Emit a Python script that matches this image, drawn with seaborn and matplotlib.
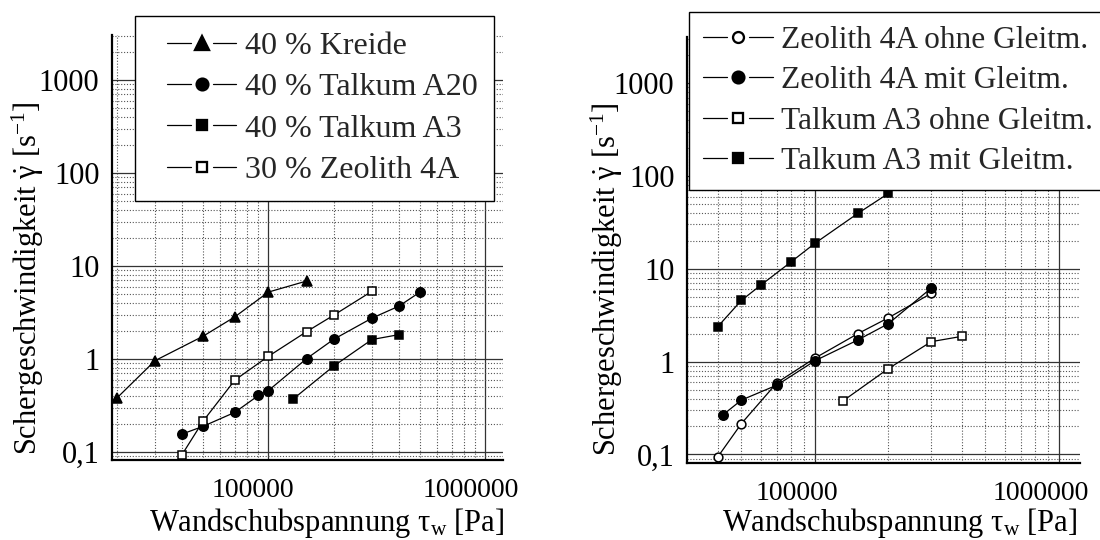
import matplotlib
matplotlib.use("Agg")
import numpy as np
import pandas as pd
import seaborn as sns
import matplotlib.pyplot as plt
from matplotlib.ticker import FixedLocator, FixedFormatter, NullFormatter
from matplotlib.transforms import ScaledTranslation
from matplotlib.legend_handler import HandlerLine2D
from matplotlib.lines import Line2D

# ---------------- data (left panel) ----------------
kreide_x = [20000, 30000, 50000, 70000, 100000, 150000]
kreide_y = [0.38, 0.96, 1.76, 2.84, 5.25, 6.9]
a20_x = [40000, 50000, 70000, 90000, 100000, 150000, 200000, 300000, 400000, 500000]
a20_y = [0.156, 0.189, 0.267, 0.406, 0.458, 1.01, 1.63, 2.75, 3.71, 5.25]
a3_x = [130000, 200000, 300000, 400000]
a3_y = [0.371, 0.84, 1.62, 1.83]
zeo30_x = [40000, 50000, 70000, 100000, 150000, 200000, 300000]
zeo30_y = [0.094, 0.215, 0.593, 1.07, 1.97, 2.96, 5.35]
left_labels = ["40 % Kreide", "40 % Talkum A20", "40 % Talkum A3", "30 % Zeolith 4A"]

# ---------------- data (right panel) ----------------
zeo_ohne_x = [40000, 50000, 70000, 100000, 150000, 200000, 300000]
zeo_ohne_y = [0.094, 0.215, 0.594, 1.09, 2.0, 2.96, 5.44]
zeo_mit_x = [42000, 50000, 70000, 100000, 150000, 200000, 300000]
zeo_mit_y = [0.267, 0.385, 0.559, 1.02, 1.71, 2.56, 6.2]
a3_ohne_x = [130000, 200000, 300000, 400000]
a3_ohne_y = [0.375, 0.84, 1.64, 1.87]
a3_mit_x = [40000, 50000, 60000, 80000, 100000, 150000, 200000]
a3_mit_y = [2.38, 4.57, 6.65, 11.9, 18.8, 39.5, 64.8]
right_labels = ["Zeolith 4A ohne Gleitm.", "Zeolith 4A mit Gleitm.",
                "Talkum A3 ohne Gleitm.", "Talkum A3 mit Gleitm."]

y_ticks = [0.1, 1, 10, 100, 1000]
y_ticklabels = ["0,1", "1", "10", "100", "1000"]
x_ticks = [100000, 1000000]
x_ticklabels = ["100000", "1000000"]

x_label = r"Wandschubspannung τ$_{\mathrm{w}}$ [Pa]"
y_label = r"Schergeschwindigkeit $\dot{\mathrm{\gamma}}$ [s$^{-1}$]"

# ---------------- style ----------------
sns.set_style("white")
plt.rcParams["font.family"] = ["Liberation Serif", "DejaVu Serif"]
plt.rcParams["mathtext.fontset"] = "custom"
plt.rcParams["mathtext.rm"] = "Liberation Serif"
plt.rcParams["mathtext.it"] = "Liberation Serif:italic"
plt.rcParams["mathtext.bf"] = "Liberation Serif:bold"


class GapHandler(HandlerLine2D):
    """legend handle: line - marker - line with small gaps"""
    def __init__(self, lead=0.0, **kw):
        super().__init__(**kw)
        self.lead = lead

    def create_artists(self, legend, orig_handle, xdescent, ydescent,
                       width, height, fontsize, trans):
        y = height / 2.0 - ydescent
        x0 = -xdescent + self.lead * width
        x1 = -xdescent + width
        w = x1 - x0
        xc = 0.5 * (x0 + x1)
        gap = 0.16 * w
        l1 = Line2D([x0, xc - gap], [y, y], color="black", lw=0.9)
        l2 = Line2D([xc + gap, x1], [y, y], color="black", lw=0.9)
        m = Line2D([xc], [y], ls="none", marker=orig_handle.get_marker(),
                   markersize=orig_handle.get_markersize() * 1.25,
                   markerfacecolor=orig_handle.get_markerfacecolor(),
                   markeredgecolor="black",
                   markeredgewidth=orig_handle.get_markeredgewidth() * 1.5)
        for a in (l1, l2, m):
            a.set_transform(trans)
        return [l1, l2, m]


def series(ax, xs, ys, marker, mfc, ms, label):
    df = pd.DataFrame({"x": xs, "y": ys})
    sns.lineplot(data=df, x="x", y="y", ax=ax, color="black", lw=0.9,
                 marker=marker, markersize=ms, markerfacecolor=mfc,
                 markeredgecolor="black", markeredgewidth=1.1,
                 label=label, legend=False, zorder=3)


def style_axes(ax, xlim, ylim, xshift_px, xlabel_xy, ylabel_xy):
    ax.set_xscale("log")
    ax.set_yscale("log")
    ax.set_xlim(*xlim)
    ax.set_ylim(*ylim)
    ax.set_axisbelow(True)
    ax.yaxis.set_major_locator(FixedLocator(y_ticks))
    ax.yaxis.set_major_formatter(FixedFormatter(y_ticklabels))
    yminor = [m * 10.0 ** e for e in range(-2, 4) for m in range(2, 10)]
    ax.yaxis.set_minor_locator(FixedLocator(yminor))
    ax.yaxis.set_minor_formatter(NullFormatter())
    ax.xaxis.set_major_locator(FixedLocator(x_ticks))
    ax.xaxis.set_major_formatter(FixedFormatter(x_ticklabels))
    xminor = [m * 10.0 ** e for e in range(4, 7) for m in range(2, 10)]
    ax.xaxis.set_minor_locator(FixedLocator(xminor))
    ax.xaxis.set_minor_formatter(NullFormatter())

    ax.grid(which="major", color="#333333", lw=0.9, ls="-")
    ax.grid(which="minor", color="#555555", lw=0.8, ls=(0, (1, 1.6)))
    for s in ("top", "right"):
        ax.spines[s].set_visible(False)
    for s in ("left", "bottom"):
        ax.spines[s].set_color("black")
        ax.spines[s].set_linewidth(1.6)
    ax.tick_params(which="major", direction="out", length=7, width=1.3,
                   color="black", labelcolor="black")
    ax.tick_params(which="minor", direction="out", length=4, width=1.1,
                   color="black")
    ax.tick_params(axis="y", which="major", pad=2, labelsize=22)
    ax.tick_params(axis="x", which="major", pad=6, labelsize=20)
    ax.set_xlabel(x_label, fontsize=22, color="black")
    ax.set_ylabel(y_label, fontsize=22, color="black")
    ax.xaxis.set_label_coords(*xlabel_xy)
    ax.yaxis.set_label_coords(*ylabel_xy)
    fig = ax.figure
    off = ScaledTranslation(xshift_px / fig.dpi, 0, fig.dpi_scale_trans)
    for lab in ax.get_xticklabels():
        lab.set_transform(lab.get_transform() + off)


fig = plt.figure(figsize=(11, 5.4), dpi=100)
axL = fig.add_axes([0.1018, 0.1481, 0.3555, 0.787])
axR = fig.add_axes([0.6245, 0.1426, 0.3573, 0.789])

# left panel
series(axL, kreide_x, kreide_y, "^", "black", 7.5, left_labels[0])
series(axL, a20_x, a20_y, "o", "black", 6.8, left_labels[1])
series(axL, a3_x, a3_y, "s", "black", 6.2, left_labels[2])
series(axL, zeo30_x, zeo30_y, "s", "white", 6.2, left_labels[3])
style_axes(axL, (19000, 1.207e6), (0.082, 3050), -15,
           (0.55, -0.109), (-0.169, 0.428))

# right panel
series(axR, zeo_ohne_x, zeo_ohne_y, "o", "white", 6.3, right_labels[0])
series(axR, zeo_mit_x, zeo_mit_y, "o", "black", 6.8, right_labels[1])
series(axR, a3_ohne_x, a3_ohne_y, "s", "white", 6.2, right_labels[2])
series(axR, a3_mit_x, a3_mit_y, "s", "black", 6.2, right_labels[3])
style_axes(axR, (29900, 1.22e6), (0.0808, 3147), -18,
           (0.54, -0.102), (-0.158, 0.432))

legL = axL.legend(loc="upper left", bbox_to_anchor=(0.059, 1.045),
                  borderaxespad=0, fontsize=23, frameon=True, fancybox=False,
                  framealpha=1, edgecolor="black", handlelength=2.67,
                  handletextpad=0.28, labelspacing=0.37, borderpad=0.5,
                  handler_map={Line2D: GapHandler(lead=0.19)})
legL.get_frame().set_linewidth(1.0)
legL.set_zorder(5)
legR = axR.legend(loc="upper left", bbox_to_anchor=(0.004, 1.059),
                  borderaxespad=0, fontsize=22.6, frameon=True, fancybox=False,
                  framealpha=1, edgecolor="black", handlelength=2.25,
                  handletextpad=0.26, labelspacing=0.36, borderpad=0.45,
                  handler_map={Line2D: GapHandler(lead=0.0)})
legR.get_frame().set_linewidth(1.0)
legR.set_zorder(5)

fig.savefig("out.png", dpi=100, facecolor="white")
